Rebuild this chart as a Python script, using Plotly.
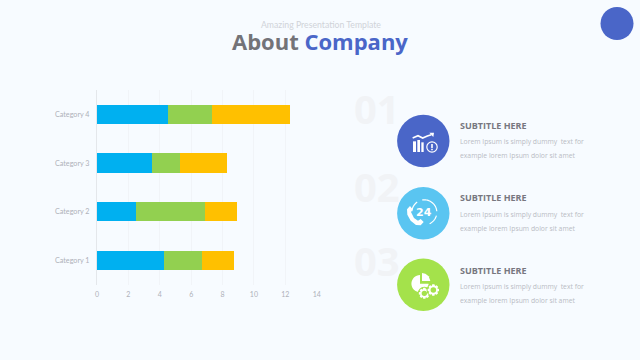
import math
import plotly.graph_objects as go

categories = ["Category 1", "Category 2", "Category 3", "Category 4"]
series_a = [4.3, 2.5, 3.5, 4.5]
series_b = [2.4, 4.4, 1.8, 2.8]
series_c = [2.0, 2.0, 3.0, 5.0]
x_ticks = [0, 2, 4, 6, 8, 10, 12, 14]
numbers = ["01", "02", "03"]
subtitle = "SUBTITLE HERE"
line_one = "Lorem Ipsum is simply dummy  text for"
line_two = "example lorem Ipsum dolor sit amet"

W, H = 640, 360
BG = "#f7fbff"
INDIGO = "#4a66c8"
GREEN = "#a4e24b"


def px(x):
    return x / W


def py(y):
    return 1 - y / H


fig = go.Figure()
for name, vals, col in [("A", series_a, "#00b0f0"), ("B", series_b, "#92d050"), ("C", series_c, "#ffc000")]:
    fig.add_trace(go.Bar(y=categories, x=vals, orientation="h", name=name, marker=dict(color=col, line_width=0)))

shapes = []
annots = []


def circle(cx, cy, r, fill=None, line=None, lw=0):
    shapes.append(dict(type="circle", xref="paper", yref="paper", x0=px(cx - r), x1=px(cx + r),
                       y0=py(cy + r), y1=py(cy - r), fillcolor=fill or "rgba(0,0,0,0)",
                       line=dict(color=line or "rgba(0,0,0,0)", width=lw)))


def path(points, fill=None, line=None, lw=0, close=True):
    d = "M " + " L ".join(f"{px(x):.5f},{py(y):.5f}" for x, y in points) + (" Z" if close else "")
    shapes.append(dict(type="path", xref="paper", yref="paper", path=d, fillcolor=fill or "rgba(0,0,0,0)",
                       line=dict(color=line or "rgba(0,0,0,0)", width=lw)))


def rect(x0, y0, x1, y1, fill):
    path([(x0, y0), (x1, y0), (x1, y1), (x0, y1)], fill=fill)


def text(x, y, s, size, color, anchor="left", family="Lato", bold=False):
    annots.append(dict(xref="paper", yref="paper", x=px(x), y=py(y), text=f"<b>{s}</b>" if bold else s,
                       showarrow=False, xanchor=anchor, yanchor="middle",
                       font=dict(size=size, color=color, family=family)))


def arc(cx, cy, r, a0, a1, n=24):
    return [(cx + r * math.cos(math.radians(a0 + (a1 - a0) * i / n)),
             cy + r * math.sin(math.radians(a0 + (a1 - a0) * i / n))) for i in range(n + 1)]


def gear(cx, cy, r, fill, bg):
    pts = []
    for i in range(8):
        a = i * 45
        pts += [(cx + r * math.cos(math.radians(a + d)), cy + r * math.sin(math.radians(a + d))) for d in (-11, 11)]
        pts += [(cx + r * .74 * math.cos(math.radians(a + 24)), cy + r * .74 * math.sin(math.radians(a + 24)))]
    path(pts, fill=fill)
    circle(cx, cy, r * .48, fill=bg)


# header
text(320.5, 25, "Amazing Presentation Template", 8.7, "#d0d3d9", "center", "Lato")
annots.append(dict(xref="paper", yref="paper", x=px(320), y=py(40.5), showarrow=False, xanchor="center", yanchor="middle",
                   text="<b><span style='color:#737378'>About</span> <span style='color:#4a66c8'>Company</span></b>",
                   font=dict(size=22, family="Open Sans", color="#737378")))
circle(617, 23.5, 16.5, fill=INDIGO)

# rows
rows = [(141, INDIGO, 108, 125), (213.3, "#5ac5f1", 186, 197.5), (284.7, GREEN, 260, 270)]
for (cy, col, ny, sy), num in zip(rows, numbers):
    text(352, ny, num, 40, "#f1f3f6", "left", "Open Sans", True)
    circle(423.3, cy, 26.2, fill=col)
    text(458, sy, subtitle, 9, "#77777f", "left", "Open Sans", True)
    text(458, sy + 16.5, line_one, 6.8, "#b9bcc4", "left", "Open Sans")
    text(458, sy + 30.5, line_two, 6.8, "#b9bcc4", "left", "Open Sans")

WHITE = "#ffffff"
# icon 1
ox, oy = 390, 108
z = lambda a, b: (ox + a / 3, oy + b / 3)
rect(*z(69, 100), *z(78, 132), WHITE)
rect(*z(82, 96), *z(90, 132), WHITE)
rect(*z(94, 103), *z(101, 132), WHITE)
path([z(68, 90), z(84, 83), z(98, 90), z(112, 84), z(124, 80)], line=WHITE, lw=1.6, close=False)
path([z(118, 74), z(132, 74), z(130, 87)], fill=WHITE)
cx, cy = z(126, 117)
circle(cx, cy, 5.2, line=WHITE, lw=1.2, fill=INDIGO)
rect(cx - .8, cy - 3, cx + .8, cy + 1, WHITE)
rect(cx - .8, cy + 1.8, cx + .8, cy + 3.2, WHITE)

# icon 2
ox, oy = 390, 180
cx, cy = z(103, 97)
path(arc(cx, cy, 12.5, -100, -5), line=WHITE, lw=1.2, close=False)
path(arc(cx, cy, 12.5, 15, 65, 10), line=WHITE, lw=1.2, close=False)
path(arc(cx, cy, 12.5, 185, 235, 10), line=WHITE, lw=1.2, close=False)
path([z(51, 88), z(60, 78), z(68, 88), z(63, 96), z(72, 114), z(84, 122), z(92, 117), z(101, 126),
      z(92, 136), z(78, 135), z(62, 122), z(52, 104)], fill=WHITE)
text(cx, cy + .5, "24", 11, WHITE, "center", "DejaVu Sans", True)

# icon 3
ox, oy = 390, 252
cx, cy = z(90, 95)
path([(cx, cy)] + arc(cx, cy, 8.6, 0, 270), fill=WHITE)
path([z(96, 63), z(106, 65), z(116, 73), z(121, 87), z(96, 87)], fill=WHITE)
circle(*z(103, 124), 6.6, fill=GREEN)
gear(*z(103, 124), 5.6, WHITE, GREEN)
circle(*z(130, 114), 6.8, fill=GREEN)
gear(*z(130, 114), 5.8, WHITE, GREEN)

fig.update_layout(
    width=W, height=H, margin=dict(l=0, r=0, t=0, b=0, pad=0), paper_bgcolor=BG, plot_bgcolor=BG,
    barmode="stack", bargap=0.6, showlegend=False, shapes=shapes, annotations=annots,
    xaxis=dict(domain=[px(97), px(316.7)], range=[0, 14], tickvals=x_ticks, showgrid=True, gridcolor="#f1f4f8",
               gridwidth=1, zeroline=False, showline=False, ticks="", automargin=False, ticklabelstandoff=4,
               tickfont=dict(size=7, color="#aeb1b9", family="Lato")),
    yaxis=dict(domain=[py(284.6), py(90)], type="category", categoryorder="array", categoryarray=categories,
               showgrid=False, zeroline=False, showline=True, linecolor="#e4e7eb", linewidth=1, ticks="",
               automargin=False, ticklabelstandoff=5, tickfont=dict(size=7.2, color="#aeb1b9", family="Lato")),
)
fig.write_html("out.html", config={"displayModeBar": False}, post_script="document.body.style.margin='0';")
